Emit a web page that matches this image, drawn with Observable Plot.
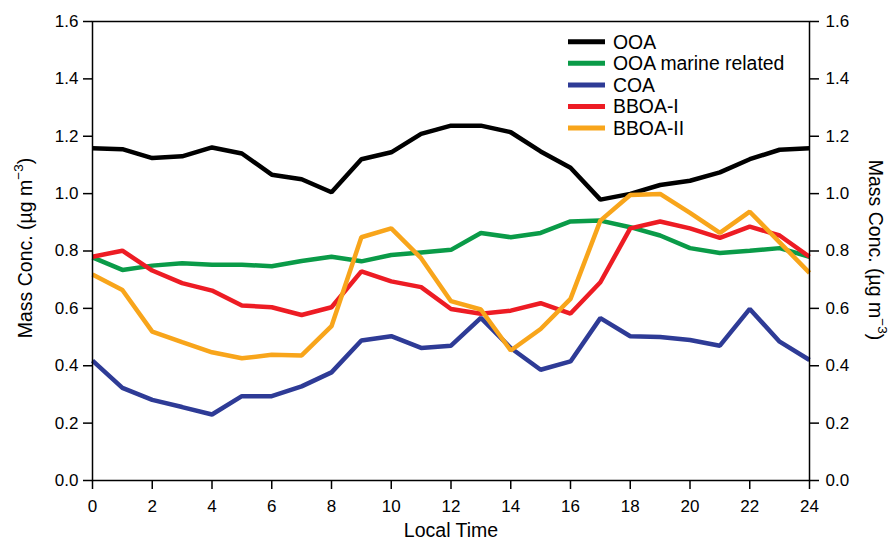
<!DOCTYPE html>
<html>
<head>
<meta charset="utf-8">
<script src="https://cdn.jsdelivr.net/npm/d3@7"></script>
<script src="https://cdn.jsdelivr.net/npm/@observablehq/plot@0.6"></script>
<style>
  html, body { margin: 0; padding: 0; background: #fff; }
  #chart svg { display: block; }
</style>
</head>
<body>
<div id="chart"></div>
<script>
// Diurnal cycles of the organic aerosol factors (hourly means, local time)
const hours = [0, 1, 2, 3, 4, 5, 6, 7, 8, 9, 10, 11, 12, 13, 14, 15, 16, 17, 18, 19, 20, 21, 22, 23, 24];

const seriesNames = ["OOA", "OOA marine related", "COA", "BBOA-I", "BBOA-II"];
const seriesColors = ["#000000", "#0a9b48", "#2e3b96", "#ed1c24", "#f8a51b"];

const ooa =       [1.158, 1.155, 1.124, 1.130, 1.161, 1.140, 1.066, 1.050, 1.005, 1.120, 1.144, 1.208, 1.237, 1.237, 1.214, 1.147, 1.090, 0.979, 0.999, 1.030, 1.045, 1.074, 1.120, 1.153, 1.158];
const ooaMarine = [0.778, 0.734, 0.749, 0.757, 0.752, 0.752, 0.747, 0.765, 0.780, 0.764, 0.786, 0.795, 0.804, 0.863, 0.848, 0.863, 0.903, 0.906, 0.883, 0.854, 0.810, 0.793, 0.801, 0.810, 0.780];
const coa =       [0.418, 0.323, 0.281, 0.256, 0.230, 0.294, 0.294, 0.328, 0.377, 0.488, 0.503, 0.462, 0.470, 0.567, 0.462, 0.386, 0.415, 0.566, 0.503, 0.500, 0.490, 0.470, 0.598, 0.484, 0.420];
const bboaI =     [0.780, 0.801, 0.732, 0.688, 0.662, 0.610, 0.604, 0.577, 0.604, 0.729, 0.694, 0.674, 0.598, 0.581, 0.592, 0.618, 0.582, 0.691, 0.879, 0.903, 0.879, 0.846, 0.885, 0.854, 0.780];
const bboaII =    [0.718, 0.664, 0.519, 0.482, 0.447, 0.426, 0.438, 0.436, 0.538, 0.848, 0.879, 0.775, 0.625, 0.596, 0.453, 0.528, 0.633, 0.906, 0.995, 0.999, 0.933, 0.863, 0.937, 0.830, 0.724];

const xTicks = [0, 2, 4, 6, 8, 10, 12, 14, 16, 18, 20, 22, 24];
const yTicks = [0, 0.2, 0.4, 0.6, 0.8, 1.0, 1.2, 1.4, 1.6];

const seriesValues = [ooa, ooaMarine, coa, bboaI, bboaII];
const tables = seriesValues.map((vals, k) =>
  hours.map((h, i) => ({ hour: h, value: vals[i], series: seriesNames[k] }))
);

const font = "'Liberation Sans', Arial, Helvetica, sans-serif";

const axisCommon = {
  ticks: yTicks,
  tickFormat: d3.format(".1f"),
  tickSize: 9,
  label: null,
  fontSize: 17,
  strokeWidth: 1.5
};

const chart = Plot.plot({
  width: 896,
  height: 540,
  marginLeft: 92,
  marginRight: 87,
  marginTop: 21,
  marginBottom: 60,
  style: { fontFamily: font, fontSize: "17px", color: "#000", background: "#fff" },
  x: { domain: [0, 24] },
  y: { domain: [0, 1.6] },
  marks: [
    ...tables.map((t, k) =>
      Plot.line(t, {
        x: "hour",
        y: "value",
        stroke: seriesColors[k],
        strokeWidth: 4.5,
        strokeLinejoin: "miter",
        strokeLinecap: "butt"
      })
    ),
    Plot.frame({ stroke: "#000", strokeWidth: 1.5 }),
    Plot.axisX({ ticks: xTicks, tickSize: 9, tickPadding: 10, label: null, fontSize: 17, strokeWidth: 1.5 }),
    Plot.axisY({ ...axisCommon, anchor: "left", tickPadding: 5 }),
    Plot.axisY({ ...axisCommon, anchor: "right", tickPadding: 7 })
  ]
});

const svg = d3.select(chart);

// Axis titles
svg.append("text")
  .attr("x", 451).attr("y", 537)
  .attr("text-anchor", "middle")
  .style("font-family", font).style("font-size", "19.5px").attr("fill", "#000")
  .text("Local Time");

function massTitle(g) {
  g.style("font-family", font).style("font-size", "19.5px").attr("fill", "#000")
    .attr("text-anchor", "middle");
  g.append("tspan").text("Mass Conc. (\u00b5g m");
  g.append("tspan").attr("dy", -9).style("font-size", "13.5px").text("\u22123");
  g.append("tspan").attr("dy", 9).text(")");
}

svg.append("text")
  .attr("transform", "translate(32,248) rotate(-90)")
  .call(massTitle);

svg.append("text")
  .attr("transform", "translate(869,250) rotate(90)")
  .call(massTitle);

// Legend
const legend = svg.append("g").attr("text-anchor", "start");
seriesNames.forEach((name, k) => {
  const y = 41.7 + k * 21.6;
  legend.append("line")
    .attr("x1", 568).attr("x2", 605)
    .attr("y1", y).attr("y2", y)
    .attr("stroke", seriesColors[k]).attr("stroke-width", 5);
  legend.append("text")
    .attr("x", 613).attr("y", y)
    .attr("dy", "0.36em")
    .attr("text-anchor", "start")
    .style("font-family", font).style("font-size", "19.4px").attr("fill", "#000")
    .text(name);
});

document.getElementById("chart").appendChild(chart);
</script>
</body>
</html>
